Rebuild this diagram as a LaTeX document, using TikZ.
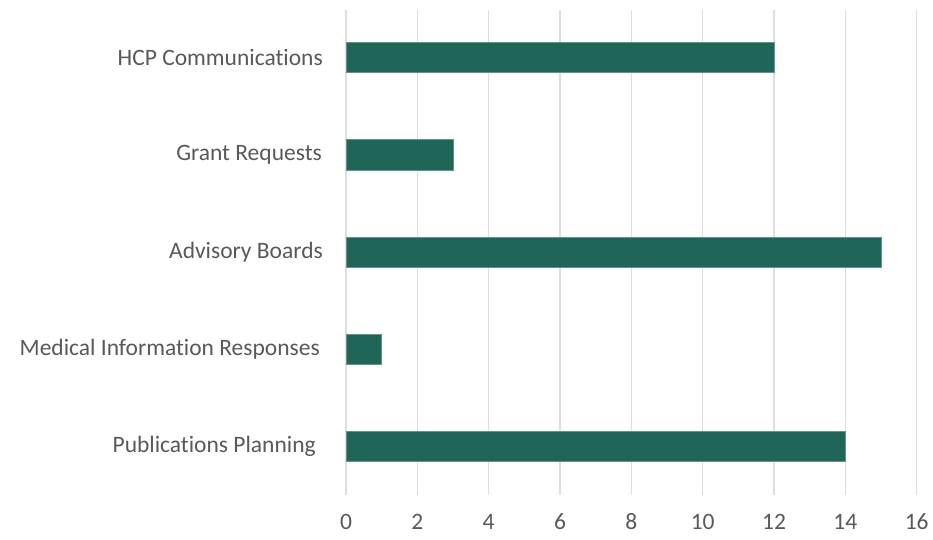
\documentclass[tikz,border=0pt]{standalone}
\usepackage{fontspec}
\setmainfont[Ligatures={NoCommon}]{Carlito}
\definecolor{barc}{RGB}{31,102,89}
\definecolor{gridc}{RGB}{222,222,222}
\definecolor{txt}{RGB}{89,89,89}
\begin{document}
\begin{tikzpicture}[x=1pt,y=-1pt,
  grid/.style={draw=gridc,line width=1.3pt},
  bar/.style={fill=barc,draw=barc!70!white,line width=0.6pt},
  cat/.style={anchor=east,text=txt,font=\fontsize{23.5}{26}\selectfont,inner sep=0pt},
  tick/.style={anchor=center,text=txt,font=\fontsize{23.5}{26}\selectfont,inner sep=0pt}]
\useasboundingbox (0,0) rectangle (933,539);
\fill[white] (0,0) rectangle (933,539);
\def\ux{35.67}
\foreach \v in {0,2,...,16}{
  \draw[grid] ({346+\v*\ux},10) -- ({346+\v*\ux},495);
  \node[tick] (t\v) at ({346+\v*\ux},522) {\v};
}
\foreach \val/\yc/\nm/\lab/\lx in {12/57.5/hcp/HCP Communications/323,3/154.75/grant/Grant Requests/322,15/252/adv/Advisory Boards/323,1/349.25/med/Medical Information Responses/320,14/446.5/pub/Publications Planning/316}{
  \draw[bar] (346,{\yc-15.2}) rectangle ({346+\val*\ux},{\yc+15.2});
  \node[cat] (\nm) at (\lx,\yc) {\lab};
}
\end{tikzpicture}
\end{document}
